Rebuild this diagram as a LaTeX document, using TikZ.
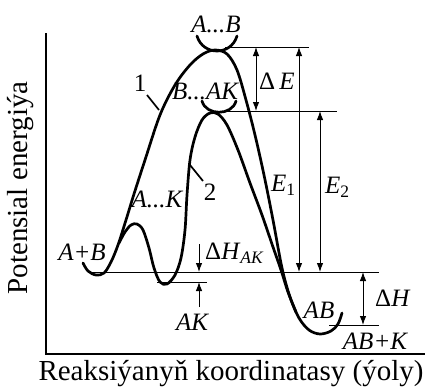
\documentclass[tikz,border=0pt]{standalone}
\usepackage{fontspec}
\setmainfont{Liberation Serif}
\usetikzlibrary{arrows.meta}
\tikzset{
  axis/.style={line width=2.8pt},
  curve/.style={line width=2.7pt, line join=round, line cap=round},
  level/.style={line width=0.9pt},
  tick/.style={line width=1.7pt},
  dimarrow/.style={{Latex[length=9pt,width=6.5pt]}-{Latex[length=9pt,width=6.5pt]}, line width=0.9pt},
  onearrow/.style={-{Latex[length=9pt,width=6.5pt]}, line width=0.9pt},
  lbl/.style={inner sep=0pt, font=\fontsize{25}{29}\selectfont\itshape},
  numlbl/.style={inner sep=0pt, font=\fontsize{25}{29}\selectfont},
  axislbl/.style={inner sep=0pt, font=\fontsize{29}{34}\selectfont}
}

\begin{document}
\begin{tikzpicture}[x=1pt, y=-1pt]
  \useasboundingbox (0,0) rectangle (428,388);

  % axes
  \coordinate (ytop) at (46,33);
  \coordinate (origin) at (46,354);
  \coordinate (xend) at (425,354);
  \draw[axis] (ytop) -- (origin) -- (xend);
  \node[axislbl, rotate=90] (ylabel) at (21,188) {Potensial energiýa};
  \node[axislbl] (xlabel) at (231,374) {Reaksiýanyň koordinatasy (ýoly)};

  % energy levels
  \coordinate (abL) at (225,47);   \coordinate (abR) at (309,47);
  \coordinate (bakL) at (222,111); \coordinate (bakR) at (337,111);
  \coordinate (startL) at (90,272); \coordinate (startR) at (379,272);
  \coordinate (akL) at (157,282);  \coordinate (akR) at (207,282);
  \coordinate (endL) at (329,325); \coordinate (endR) at (379,325);
  \draw[level] (abL) -- (abR);
  \draw[level] (bakL) -- (bakR);
  \draw[level] (startL) -- (startR);
  \draw[level] (akL) -- (akR);
  \draw[level] (endL) -- (endR);

  % curve 1 (without catalyst)
  \draw[curve] plot[smooth, tension=0.55] coordinates {
    (83,263) (88,271) (96,275) (104,273) (111,262) (118,245) (126,220)
    (134,194) (145,160) (160,115) (175,85) (190,65) (203,54) (215,50)
    (227,54) (237,70) (246,100) (255,135) (264,175) (273,220) (282,268)
    (290,297) (299,318) (309,330) (320,334) (331,331) (338,324) (342,313)};
  % curve 2 (with catalyst)
  \draw[curve] plot[smooth, tension=0.55] coordinates {
    (119,243) (125,232) (131,225) (137,224) (143,230) (149,248) (154,268)
    (160,282) (167,284) (175,275) (181,258) (185,230) (187,195) (190,160)
    (195,137) (202,120) (210,113) (218,114) (227,125) (238,150) (250,183)
    (262,215) (273,247) (281,270) (288,292) (296,312)};

  % activated complexes
  \draw[curve] (197,36) .. controls (203,56) and (231,56) .. (237,36);
  \draw[curve] (202,101) .. controls (206,116) and (232,116) .. (236,101);

  % curve labels
  \node[numlbl] (one) at (140,83) {1};
  \coordinate (one0) at (147,95);  \coordinate (one1) at (159,110);
  \draw[tick] (one0) -- (one1);
  \node[numlbl] (two) at (210,192) {2};
  \coordinate (two0) at (190,165); \coordinate (two1) at (203,181);
  \draw[tick] (two0) -- (two1);

  \node[lbl] (cab) at (216,24) {A...B};
  \node[lbl] (cbak) at (205,91) {B...AK};
  \node[lbl] (cak) at (157,199) {A...K};
  \node[lbl] (reac) at (82,252) {A+B};
  \node[lbl] (ak) at (192,322) {AK};
  \node[lbl] (prod) at (319,310) {AB};
  \node[lbl] (prodk) at (375,341) {AB+K};

  % energy differences
  \coordinate (dEt) at (256,47);  \coordinate (dEb) at (256,111);
  \draw[dimarrow] (dEt) -- (dEb);
  \node[numlbl, anchor=west] (dE) at (259,81) {Δ\,\textit{E}};

  \coordinate (eonet) at (299,47);  \coordinate (eoneb) at (299,272);
  \draw[dimarrow] (eonet) -- (eoneb);
  \node[numlbl, anchor=west] (eone) at (271,185) {\textit{E}\textsubscript{1}};

  \coordinate (etwot) at (320,111); \coordinate (etwob) at (320,272);
  \draw[dimarrow] (etwot) -- (etwob);
  \node[numlbl, anchor=west] (etwo) at (325,187) {\textit{E}\textsubscript{2}};

  \coordinate (dHt) at (363,272);  \coordinate (dHb) at (363,325);
  \draw[dimarrow] (dHt) -- (dHb);
  \node[numlbl, anchor=west] (dH) at (375,298) {Δ\textit{H}};

  \coordinate (dHakA) at (199,244); \coordinate (dHakB) at (199,272);
  \coordinate (dHakC) at (199,307); \coordinate (dHakD) at (199,282);
  \draw[onearrow] (dHakA) -- (dHakB);
  \draw[onearrow] (dHakC) -- (dHakD);
  \node[numlbl, anchor=west] (dHak) at (205,253) {Δ\textit{H}\textsubscript{\textit{AK}}};
\end{tikzpicture}
\end{document}
